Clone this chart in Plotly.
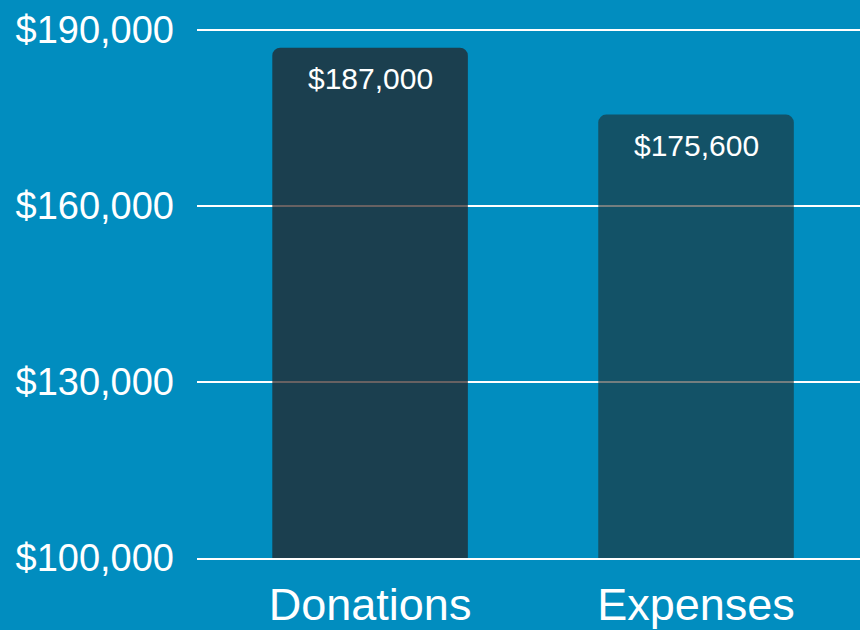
import plotly.graph_objects as go

categories = ["Donations", "Expenses"]
amounts = [187000, 175600]
bar_colors = ["rgba(39,30,31,0.70)", "rgba(31,46,48,0.62)"]
tick_values = [100000, 130000, 160000, 190000]
tick_labels = ["$100,000", "$130,000", "$160,000", "$190,000"]

BG = "#018dbf"
FONT = "Liberation Sans, Arial, Helvetica, sans-serif"

fig = go.Figure()
fig.add_trace(go.Bar(
    x=categories,
    y=amounts,
    marker=dict(color=bar_colors, line=dict(width=0)),
    width=0.6,
    hoverinfo="skip",
))

for c, v in zip(categories, amounts):
    fig.add_annotation(
        x=c, y=v, xref="x", yref="y",
        text=f"${v:,}",
        showarrow=False,
        yanchor="top",
        yshift=-12,
        font=dict(family=FONT, size=30, color="white"),
    )

fig.update_layout(
    width=860, height=630,
    paper_bgcolor=BG, plot_bgcolor=BG,
    margin=dict(l=197, r=0, t=19, b=72),
    showlegend=False,
    barcornerradius=8,
    font=dict(family=FONT, color="white"),
)
fig.update_xaxes(
    range=[-0.531, 1.503],
    showgrid=False, zeroline=False,
    showline=True, linecolor="white", linewidth=2,
    ticks="", tickfont=dict(size=45, color="white", family=FONT),
    ticklabelstandoff=6, automargin=False,
)
fig.update_yaxes(
    range=[100000, 191900],
    tickvals=tick_values, ticktext=tick_labels,
    showgrid=True, gridcolor="white", gridwidth=2,
    zeroline=False, showline=False, ticks="",
    tickfont=dict(size=38, color="white", family=FONT),
    ticklabelstandoff=22, automargin=False,
)

fig.write_html(
    "out.html",
    config={"displayModeBar": False},
    post_script="document.body.style.margin='0';document.body.style.background='" + BG + "';",
)
